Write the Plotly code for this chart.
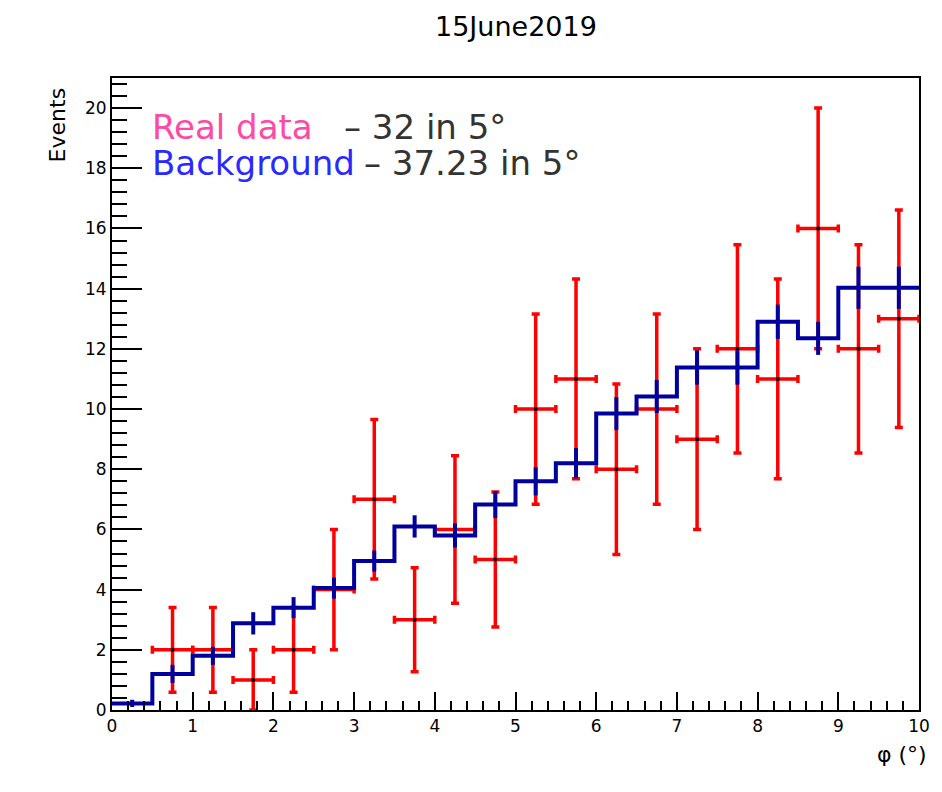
import plotly.graph_objects as go

# ---------------- data ----------------
bin_edges = [0.0, 0.5, 1.0, 1.5, 2.0, 2.5, 3.0, 3.5, 4.0, 4.5, 5.0,
             5.5, 6.0, 6.5, 7.0, 7.5, 8.0, 8.5, 9.0, 9.5, 10.0]

# real data counts per bin (first bin empty -> not drawn)
data_counts = [0, 2, 2, 1, 2, 4, 7, 3, 6, 5, 10, 11, 8, 10, 9, 12, 11, 16, 12, 13]
data_err = [0.0, 1.41, 1.41, 1.0, 1.41, 2.0, 2.65, 1.73, 2.45, 2.24, 3.16,
            3.32, 2.83, 3.16, 3.0, 3.46, 3.32, 4.0, 3.46, 3.61]

# background expectation per bin
bg_counts = [0.22, 1.2, 1.8, 2.88, 3.4, 4.05, 4.95, 6.1, 5.8, 6.83,
             7.6, 8.2, 9.85, 10.42, 11.38, 11.38, 12.9, 12.35, 14.03, 14.03]
bg_err = [0.12, 0.3, 0.3, 0.37, 0.35, 0.35, 0.35, 0.37, 0.4, 0.45,
          0.47, 0.5, 0.55, 0.55, 0.57, 0.57, 0.57, 0.55, 0.7, 0.7]

x_ticks = [0, 1, 2, 3, 4, 5, 6, 7, 8, 9, 10]
y_ticks = [0, 2, 4, 6, 8, 10, 12, 14, 16, 18, 20]

title_text = "15June2019"
legend_real = "Real data"
legend_real_val = "– 32 in 5°"
legend_bg = "Background"
legend_bg_val = "– 37.23 in 5°"

# ---------------- derived ----------------
centers = [(bin_edges[i] + bin_edges[i + 1]) / 2 for i in range(len(bin_edges) - 1)]
halfw = [(bin_edges[i + 1] - bin_edges[i]) / 2 for i in range(len(bin_edges) - 1)]

dx = [c for c, n in zip(centers, data_counts) if n > 0]
dy = [n for n in data_counts if n > 0]
de = [e for e, n in zip(data_err, data_counts) if n > 0]
dw = [w for w, n in zip(halfw, data_counts) if n > 0]

RED = "#ff0000"
BLUE = "#00009c"
FONT = "DejaVu Sans, Liberation Sans, Arial, sans-serif"

fig = go.Figure()

# real data with error bars
fig.add_trace(go.Scatter(
    x=dx, y=dy, mode="markers",
    marker=dict(color="black", size=4),
    error_x=dict(type="data", array=dw, color=RED, thickness=3.5, width=4),
    error_y=dict(type="data", array=de, color=RED, thickness=3.5, width=4),
    showlegend=False, cliponaxis=False,
))

# background histogram (step)
fig.add_trace(go.Scatter(
    x=bin_edges, y=bg_counts + [bg_counts[-1]], mode="lines",
    line=dict(color=BLUE, width=4, shape="hv"),
    showlegend=False,
))
# background errors
fig.add_trace(go.Scatter(
    x=centers, y=bg_counts, mode="markers",
    marker=dict(color=BLUE, size=1, opacity=0),
    error_y=dict(type="data", array=bg_err, color=BLUE, thickness=4, width=0),
    showlegend=False,
))

axis_common = dict(
    showgrid=False, zeroline=False, showline=True, mirror=True,
    linecolor="black", linewidth=2, ticks="inside", tickcolor="black",
    tickwidth=2, tickfont=dict(family=FONT, size=17, color="black"),
)

fig.update_layout(
    width=942, height=792,
    margin=dict(l=112, r=14, t=78, b=82),
    paper_bgcolor="white", plot_bgcolor="white",
    xaxis=dict(range=[0, 10], tickvals=x_ticks, ticktext=[str(v) for v in x_ticks],
               ticklen=18,
               minor=dict(dtick=0.2, ticklen=9, ticks="inside", tickcolor="black", tickwidth=2),
               **axis_common),
    yaxis=dict(range=[0, 21], tickvals=y_ticks, ticktext=[str(v) for v in y_ticks],
               ticklen=30,
               minor=dict(dtick=0.4, ticklen=15, ticks="inside", tickcolor="black", tickwidth=2),
               **axis_common),
    showlegend=False,
)

ann = []
ann.append(dict(text=title_text, x=0.5, y=1.0807, xref="paper", yref="paper",
                xanchor="center", yanchor="middle", showarrow=False,
                font=dict(family=FONT, size=27, color="black")))
ann.append(dict(text="Events", x=-0.0674, y=0.926, xref="paper", yref="paper",
                xanchor="center", yanchor="middle", textangle=-90, showarrow=False,
                font=dict(family=FONT, size=22, color="black")))
ann.append(dict(text="φ (°)", x=1.013, y=-0.0712, xref="paper", yref="paper",
                xanchor="right", yanchor="middle", showarrow=False,
                font=dict(family=FONT, size=22, color="black")))
ann.append(dict(text=legend_real, x=0.0466, y=0.9225, xref="paper", yref="paper",
                xanchor="left", yanchor="middle", showarrow=False,
                font=dict(family=FONT, size=34, color="#ff4aa5")))
ann.append(dict(text=legend_real_val, x=0.2855, y=0.9225, xref="paper", yref="paper",
                xanchor="left", yanchor="middle", showarrow=False,
                font=dict(family=FONT, size=34, color="#333333")))
ann.append(dict(text=legend_bg, x=0.0466, y=0.8655, xref="paper", yref="paper",
                xanchor="left", yanchor="middle", showarrow=False,
                font=dict(family=FONT, size=34, color="#2a2aff")))
ann.append(dict(text=legend_bg_val, x=0.310, y=0.8655, xref="paper", yref="paper",
                xanchor="left", yanchor="middle", showarrow=False,
                font=dict(family=FONT, size=34, color="#333333")))
fig.update_layout(annotations=ann)

fig.write_html("out.html")
